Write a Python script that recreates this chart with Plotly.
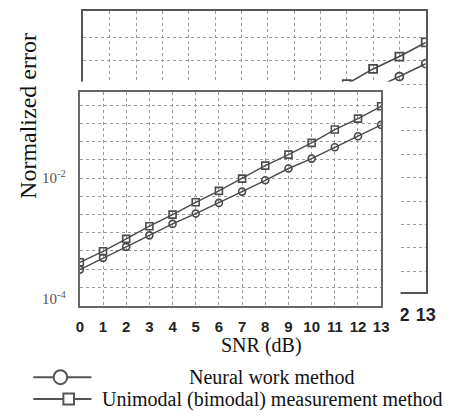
import plotly.graph_objects as go

# ---------------- data ----------------
snr_db = list(range(14))
neural_err = [3.07e-4, 4.8e-4, 7.3e-4, 1.13e-3, 1.75e-3, 2.59e-3, 3.89e-3,
              5.98e-3, 9.2e-3, 1.44e-2, 2.1e-2, 3.23e-2, 4.91e-2, 7.57e-2]
unimodal_err = [4.06e-4, 6.17e-4, 9.9e-4, 1.6e-3, 2.49e-3, 3.98e-3, 6.14e-3,
                9.8e-3, 1.61e-2, 2.44e-2, 3.82e-2, 6.34e-2, 9.6e-2, 1.54e-1]
x_tick_labels = [str(v) for v in snr_db]
bg_visible_ticks = [12, 13]          # only these labels of the rear copy peek out
y_tick_vals = [1e-4, 1e-2]
y_tick_text = ["10<sup>-4</sup>", "10<sup>-2</sup>"]
series_names = ["Neural work method", "Unimodal (bimodal) measurement method"]

# page has an 8px body margin: figure is sized to fill the rest of the window
OFF = 8
W, H = 459 - OFF, 417 - OFF


def px(x):
    return (x - OFF) / W


def py(y):
    return 1 - (y - OFF) / H


LINE_COL = "#4a4a4a"
GRID_COL = "#9a9a9a"
SERIF = "Liberation Serif"

fig = go.Figure()

# ---- background (enlarged copy, partly hidden) : subplot x / y ----
for vals, sym in [(neural_err, "circle-open"), (unimodal_err, "square-open")]:
    fig.add_trace(go.Scatter(x=snr_db, y=vals, mode="lines+markers",
                             line=dict(color=LINE_COL, width=1.6),
                             marker=dict(symbol=sym, size=8, color=LINE_COL,
                                         line=dict(width=1.8, color=LINE_COL)),
                             xaxis="x", yaxis="y", showlegend=False, hoverinfo="skip"))

# ---- mask subplot (white plot background hides the background figure) ----
fig.add_trace(go.Scatter(x=[], y=[], xaxis="x2", yaxis="y2", showlegend=False,
                         hoverinfo="skip"))

# ---- foreground : subplot x3 / y3 ----
for vals, sym, name in [(neural_err, "circle-open", series_names[0]),
                        (unimodal_err, "square-open", series_names[1])]:
    fig.add_trace(go.Scatter(x=snr_db, y=vals, mode="lines+markers", name=name,
                             line=dict(color=LINE_COL, width=1.4),
                             marker=dict(symbol=sym, size=7, color=LINE_COL,
                                         line=dict(width=1.6, color=LINE_COL)),
                             xaxis="x3", yaxis="y3", showlegend=False, hoverinfo="skip"))

bg_grid = [10 ** (-0.735 - 0.3412 * k) for k in range(11)]
fg_grid = [1e-2 * 2 ** k for k in range(-6, 5)]

fig.update_layout(
    width=W, height=H,
    margin=dict(l=0, r=0, t=0, b=0),
    paper_bgcolor="white", plot_bgcolor="white",
    showlegend=False,
    # background axes
    xaxis=dict(domain=[px(81.7), px(435)], range=[0, 13], anchor="y",
               tickvals=bg_visible_ticks, ticktext=[str(v) for v in bg_visible_ticks],
               tickfont=dict(family="Liberation Sans", size=18, weight="bold", color="#222"),
               showgrid=True, gridcolor=GRID_COL, griddash="dot", gridwidth=1,
               minor=dict(tickvals=snr_db, showgrid=True, gridcolor=GRID_COL,
                          griddash="dot", gridwidth=1, ticklen=0),
               showline=True, mirror=True, linecolor="#555", linewidth=2,
               ticks="", ticklabelstandoff=6, zeroline=False),
    yaxis=dict(domain=[py(293), py(11)], type="log", range=[-4.441, -0.354], anchor="x",
               showticklabels=False, showgrid=False, ticks="",
               minor=dict(tickvals=bg_grid, showgrid=True, gridcolor=GRID_COL,
                          griddash="dot", gridwidth=1, ticklen=0),
               showline=True, mirror=True, linecolor="#555", linewidth=2, zeroline=False),
    # mask axes
    xaxis2=dict(domain=[0, px(409)], range=[0, 1], anchor="y2", visible=False),
    yaxis2=dict(domain=[py(335), py(82)], range=[0, 1], anchor="x2", visible=False),
    # foreground axes
    xaxis3=dict(domain=[px(78), px(389)], range=[0, 13], anchor="y3",
                tickvals=snr_db, ticktext=x_tick_labels,
                tickfont=dict(family="Liberation Sans", size=15, weight="bold", color="#222"),
                showgrid=True, gridcolor=GRID_COL, griddash="dot", gridwidth=1,
                showline=True, mirror=True, linecolor="#666", linewidth=2,
                ticks="", ticklabelstandoff=6, zeroline=False),
    yaxis3=dict(domain=[py(307), py(92)], type="log", range=[-4.107, -0.570], anchor="x3",
                tickvals=y_tick_vals, ticktext=y_tick_text,
                tickfont=dict(family=SERIF, size=15, color="#555"),
                showgrid=False, ticks="", ticklabelstandoff=9,
                minor=dict(tickvals=fg_grid, showgrid=True, gridcolor=GRID_COL,
                           griddash="dot", gridwidth=1, ticklen=0),
                showline=True, mirror=True, linecolor="#666", linewidth=2, zeroline=False),
)

# axis titles
fig.add_annotation(text="Normalized error", textangle=-90, x=px(25), y=py(116),
                   xref="paper", yref="paper", showarrow=False,
                   xanchor="center", yanchor="middle",
                   font=dict(family=SERIF, size=24, color="#111"))
fig.add_annotation(text="SNR (dB)", x=px(265), y=py(347), xref="paper", yref="paper",
                   showarrow=False, xanchor="center", yanchor="middle",
                   font=dict(family=SERIF, size=20, color="#111"))

# custom legend
leg_rows = [(379, "circle"), (401, "square")]
for (ly, kind), name in zip(leg_rows, series_names):
    fig.add_shape(type="line", x0=px(30), x1=px(90), y0=py(ly), y1=py(ly),
                  xref="paper", yref="paper", line=dict(color="#555", width=2))
    if kind == "circle":
        fig.add_shape(type="circle", x0=px(51), x1=px(65), y0=py(ly - 7), y1=py(ly + 7),
                      xref="paper", yref="paper", fillcolor="white",
                      line=dict(color="#555", width=2))
    else:
        fig.add_shape(type="rect", x0=px(61), x1=px(72), y0=py(ly - 5.5), y1=py(ly + 5.5),
                      xref="paper", yref="paper", fillcolor="white",
                      line=dict(color="#555", width=2))
    fig.add_annotation(text=name, x=px(276), y=py(ly), xref="paper", yref="paper",
                       showarrow=False, xanchor="center", yanchor="middle",
                       font=dict(family=SERIF, size=20, color="#111"))

fig.write_html("out.html")
